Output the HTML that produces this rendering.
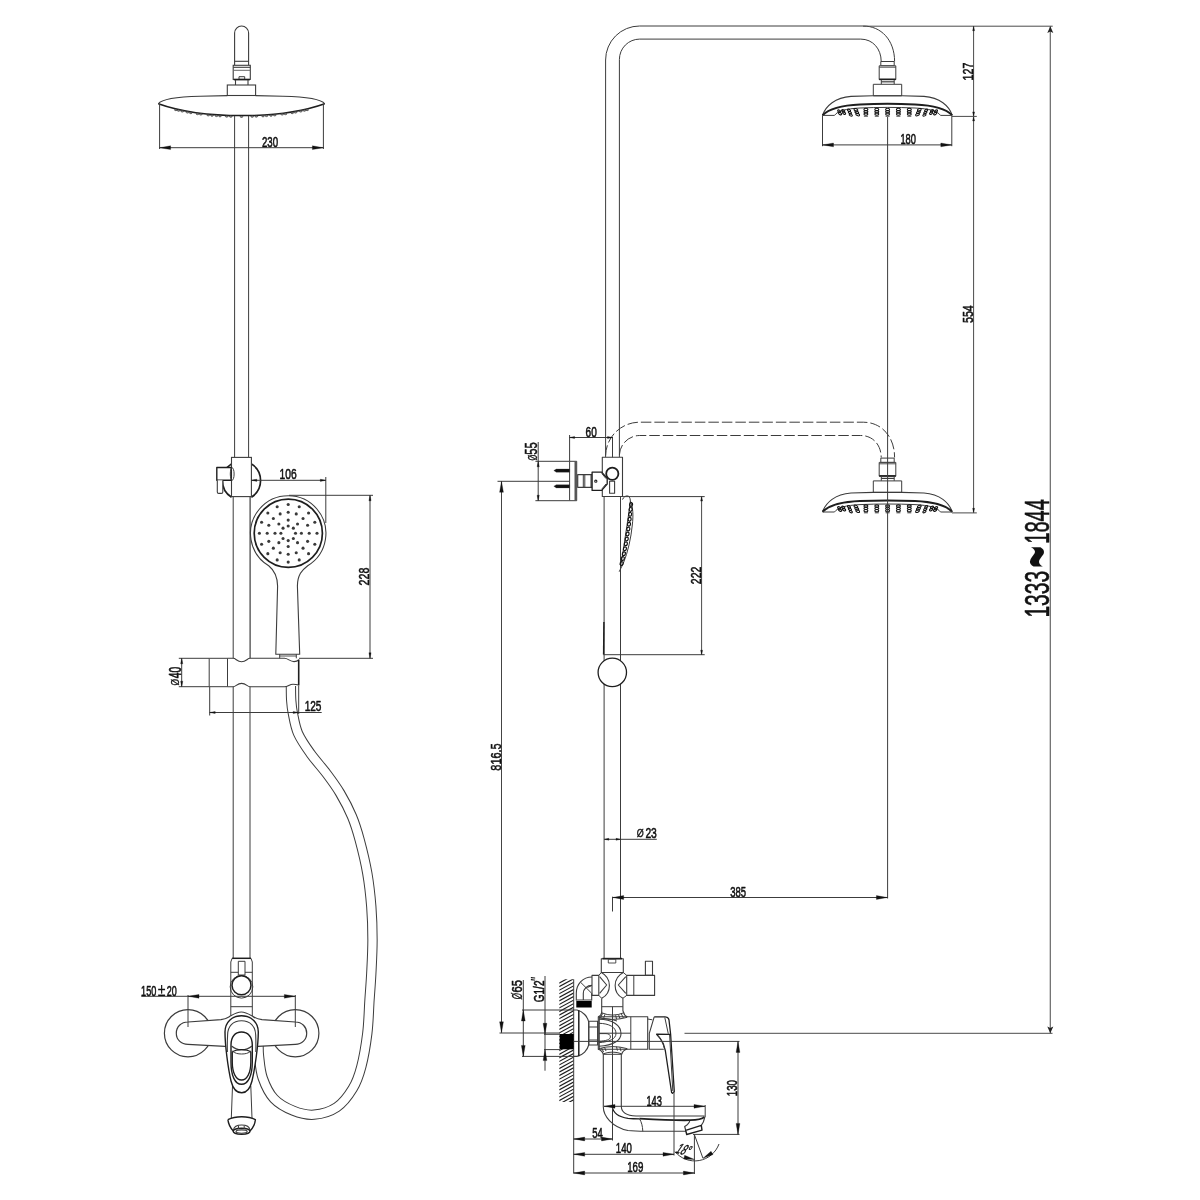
<!DOCTYPE html>
<html lang="en">
<head>
<meta charset="utf-8">
<title>Shower system dimensional drawing</title>
<style>
html,body{margin:0;padding:0;background:#fff;}
body{width:1200px;height:1200px;overflow:hidden;}
svg{display:block;will-change:transform;}
svg text{font-family:"Liberation Sans",sans-serif;}
</style>
</head>
<body>
<svg width="1200" height="1200" viewBox="0 0 1200 1200" stroke-linecap="butt" stroke-linejoin="round">
<rect x="0" y="0" width="1200" height="1200" fill="#ffffff"/>
<g id="front-view">
<path d="M290.9,686 C290.95,688.33 290.88,695.5 291.2,700 C291.52,704.5 291.67,707.45 292.8,713 C293.93,718.55 295.05,726.55 298,733.3 C300.95,740.05 305.75,746.8 310.5,753.5 C315.25,760.2 321.58,766.92 326.5,773.5 C331.42,780.08 335.75,785.83 340,793 C344.25,800.17 348.72,808.67 352,816.5 C355.28,824.33 357.15,830.53 359.7,840 C362.25,849.47 365.37,862.18 367.3,873.3 C369.23,884.42 370.43,895.58 371.3,906.7 C372.17,917.82 372.5,928.9 372.5,940 C372.5,951.1 371.8,963.3 371.3,973.3 C370.8,983.3 370.17,990 369.5,1000 C368.83,1010 368.67,1022.18 367.3,1033.3 C365.93,1044.42 363.73,1057.47 361.3,1066.7 C358.87,1075.93 356.8,1081.93 352.7,1088.7 C348.6,1095.47 343.15,1102.97 336.7,1107.3 C330.25,1111.63 321.23,1114.13 314,1114.7 C306.77,1115.27 299.97,1113.37 293.3,1110.7 C286.63,1108.03 279.1,1104.15 274,1098.7 C268.9,1093.25 265.2,1085.12 262.7,1078 C260.2,1070.88 259.68,1061.67 259,1056 C258.32,1050.33 258.67,1046 258.6,1044" fill="none" stroke="#3c3c3c" stroke-width="10.3"/>
<path d="M290.9,686 C290.95,688.33 290.88,695.5 291.2,700 C291.52,704.5 291.67,707.45 292.8,713 C293.93,718.55 295.05,726.55 298,733.3 C300.95,740.05 305.75,746.8 310.5,753.5 C315.25,760.2 321.58,766.92 326.5,773.5 C331.42,780.08 335.75,785.83 340,793 C344.25,800.17 348.72,808.67 352,816.5 C355.28,824.33 357.15,830.53 359.7,840 C362.25,849.47 365.37,862.18 367.3,873.3 C369.23,884.42 370.43,895.58 371.3,906.7 C372.17,917.82 372.5,928.9 372.5,940 C372.5,951.1 371.8,963.3 371.3,973.3 C370.8,983.3 370.17,990 369.5,1000 C368.83,1010 368.67,1022.18 367.3,1033.3 C365.93,1044.42 363.73,1057.47 361.3,1066.7 C358.87,1075.93 356.8,1081.93 352.7,1088.7 C348.6,1095.47 343.15,1102.97 336.7,1107.3 C330.25,1111.63 321.23,1114.13 314,1114.7 C306.77,1115.27 299.97,1113.37 293.3,1110.7 C286.63,1108.03 279.1,1104.15 274,1098.7 C268.9,1093.25 265.2,1085.12 262.7,1078 C260.2,1070.88 259.68,1061.67 259,1056 C258.32,1050.33 258.67,1046 258.6,1044" fill="none" stroke="#fff" stroke-width="8.3" stroke-linecap="square"/>
<path d="M234.6,65.3 V33 A7,7 0 0 1 248.6,33 V65.3" fill="none" stroke="#3c3c3c" stroke-width="1.1"/>
<line x1="234.6" y1="61.3" x2="248.6" y2="61.3" stroke="#3c3c3c" stroke-width="1.1"/>
<rect x="233.2" y="65.3" width="17.1" height="14.1" fill="#fff" stroke="#3c3c3c" stroke-width="1.1" stroke-linejoin="miter"/>
<line x1="233.2" y1="67.3" x2="250.3" y2="67.3" stroke="#3c3c3c" stroke-width="1.1"/>
<line x1="233.2" y1="70.3" x2="250.3" y2="70.3" stroke="#666" stroke-width="1"/>
<rect x="239" y="76.7" width="5.7" height="2.7" fill="none" stroke="#3c3c3c" stroke-width="1"/>
<line x1="233.8" y1="79.6" x2="249.8" y2="79.6" stroke="#1e1e1e" stroke-width="1.6"/>
<path d="M235.5,80 V85 M248,80 V85" fill="none" stroke="#3c3c3c" stroke-width="1.1"/>
<rect x="227.3" y="85" width="28.3" height="10.5" fill="#fff" stroke="#3c3c3c" stroke-width="1.1" stroke-linejoin="miter"/>
<path d="M158.3,103.7 C161,100 172,96.8 200,96.2 L227.3,95.6 M324.7,103.7 C322,100 311,96.8 283,96.2 L255.6,95.6" fill="none" stroke="#3c3c3c" stroke-width="1.1"/>
<path d="M158.3,103.7 C183,112.5 213,115.6 241.5,115.6 C270,115.6 300,112.5 324.7,103.7" fill="none" stroke="#1e1e1e" stroke-width="1.5"/>
<ellipse cx="175.8" cy="109.9" rx="1.3" ry="0.75" fill="#999" stroke="#333" stroke-width="0.7"/>
<ellipse cx="307.2" cy="109.9" rx="1.3" ry="0.75" fill="#999" stroke="#333" stroke-width="0.7"/>
<ellipse cx="178.6" cy="110.55" rx="1.3" ry="0.75" fill="#999" stroke="#333" stroke-width="0.7"/>
<ellipse cx="304.4" cy="110.55" rx="1.3" ry="0.75" fill="#999" stroke="#333" stroke-width="0.7"/>
<ellipse cx="182.3" cy="111.34" rx="1.3" ry="0.75" fill="#999" stroke="#333" stroke-width="0.7"/>
<ellipse cx="300.7" cy="111.34" rx="1.3" ry="0.75" fill="#999" stroke="#333" stroke-width="0.7"/>
<ellipse cx="187.5" cy="112.36" rx="1.3" ry="0.75" fill="#999" stroke="#333" stroke-width="0.7"/>
<ellipse cx="295.5" cy="112.36" rx="1.3" ry="0.75" fill="#999" stroke="#333" stroke-width="0.7"/>
<ellipse cx="190.8" cy="112.93" rx="1.3" ry="0.75" fill="#999" stroke="#333" stroke-width="0.7"/>
<ellipse cx="292.2" cy="112.93" rx="1.3" ry="0.75" fill="#999" stroke="#333" stroke-width="0.7"/>
<ellipse cx="197.5" cy="113.94" rx="1.3" ry="0.75" fill="#999" stroke="#333" stroke-width="0.7"/>
<ellipse cx="285.5" cy="113.94" rx="1.3" ry="0.75" fill="#999" stroke="#333" stroke-width="0.7"/>
<ellipse cx="200.8" cy="114.32" rx="1.3" ry="0.75" fill="#999" stroke="#333" stroke-width="0.7"/>
<ellipse cx="282.2" cy="114.32" rx="1.3" ry="0.75" fill="#999" stroke="#333" stroke-width="0.7"/>
<ellipse cx="208.3" cy="115.17" rx="1.3" ry="0.75" fill="#999" stroke="#333" stroke-width="0.7"/>
<ellipse cx="274.7" cy="115.17" rx="1.3" ry="0.75" fill="#999" stroke="#333" stroke-width="0.7"/>
<ellipse cx="212" cy="115.52" rx="1.3" ry="0.75" fill="#999" stroke="#333" stroke-width="0.7"/>
<ellipse cx="271" cy="115.52" rx="1.3" ry="0.75" fill="#999" stroke="#333" stroke-width="0.7"/>
<ellipse cx="216.5" cy="115.85" rx="1.3" ry="0.75" fill="#999" stroke="#333" stroke-width="0.7"/>
<ellipse cx="266.5" cy="115.85" rx="1.3" ry="0.75" fill="#999" stroke="#333" stroke-width="0.7"/>
<ellipse cx="220" cy="116.08" rx="1.3" ry="0.75" fill="#999" stroke="#333" stroke-width="0.7"/>
<ellipse cx="263" cy="116.08" rx="1.3" ry="0.75" fill="#999" stroke="#333" stroke-width="0.7"/>
<ellipse cx="226.7" cy="116.42" rx="1.3" ry="0.75" fill="#999" stroke="#333" stroke-width="0.7"/>
<ellipse cx="256.3" cy="116.42" rx="1.3" ry="0.75" fill="#999" stroke="#333" stroke-width="0.7"/>
<ellipse cx="230.8" cy="116.55" rx="1.3" ry="0.75" fill="#999" stroke="#333" stroke-width="0.7"/>
<ellipse cx="252.2" cy="116.55" rx="1.3" ry="0.75" fill="#999" stroke="#333" stroke-width="0.7"/>
<ellipse cx="241.5" cy="116.7" rx="1.3" ry="0.75" fill="#999" stroke="#333" stroke-width="0.7"/>
<line x1="234.6" y1="116" x2="234.6" y2="457.5" stroke="#3c3c3c" stroke-width="1"/>
<line x1="248.6" y1="116" x2="248.6" y2="457.5" stroke="#3c3c3c" stroke-width="1"/>
<line x1="233.2" y1="496.7" x2="233.2" y2="658.3" stroke="#3c3c3c" stroke-width="1"/>
<line x1="250.1" y1="496.7" x2="250.1" y2="658.3" stroke="#3c3c3c" stroke-width="1.2"/>
<line x1="233.2" y1="686.7" x2="233.2" y2="958.3" stroke="#3c3c3c" stroke-width="1"/>
<line x1="250" y1="686.7" x2="250" y2="958.3" stroke="#3c3c3c" stroke-width="1"/>
<path d="M251.4,463.9 A19.8,19.8 0 0 1 251.4,497.3 M231.5,463.9 A19.8,19.8 0 0 0 231.5,497.3" fill="none" stroke="#1e1e1e" stroke-width="1.7"/>
<rect x="231.5" y="457.4" width="19.9" height="39.2" fill="#fff" stroke="#3c3c3c" stroke-width="1.1" stroke-linejoin="miter"/>
<rect x="216.8" y="467.5" width="14.4" height="12.8" fill="#fff" stroke="#1e1e1e" stroke-width="1.4"/>
<ellipse cx="232.2" cy="474" rx="1.9" ry="6.2" fill="none" stroke="#3c3c3c" stroke-width="1"/>
<path d="M217.3,480.3 V492 Q217.3,493.4 218.7,493.4 H221.4 Q222.8,493.4 222.8,492 V480.3" fill="#fff" stroke="#3c3c3c" stroke-width="1.1"/>
<path d="M275.8,654.2 L277.6,586 C277.4,575 274,570 268.7,565.7 A37.7,37.7 0 1 1 307.7,565.7 C302,570 297.5,575 297.4,586 L299.7,654.2 Z" fill="none" stroke="#3c3c3c" stroke-width="1.1"/>
<circle cx="288.3" cy="533.3" r="34.1" fill="none" stroke="#1e1e1e" stroke-width="1.7"/>
<circle cx="295.5" cy="533.3" r="1.55" fill="#3a3a3a" stroke="#3c3c3c" stroke-width="0"/>
<circle cx="293.36" cy="538.46" r="1.55" fill="#3a3a3a" stroke="#3c3c3c" stroke-width="0"/>
<circle cx="288.2" cy="540.6" r="1.55" fill="#3a3a3a" stroke="#3c3c3c" stroke-width="0"/>
<circle cx="283.04" cy="538.46" r="1.55" fill="#3a3a3a" stroke="#3c3c3c" stroke-width="0"/>
<circle cx="280.9" cy="533.3" r="1.55" fill="#3a3a3a" stroke="#3c3c3c" stroke-width="0"/>
<circle cx="283.04" cy="528.14" r="1.55" fill="#3a3a3a" stroke="#3c3c3c" stroke-width="0"/>
<circle cx="288.2" cy="526" r="1.55" fill="#3a3a3a" stroke="#3c3c3c" stroke-width="0"/>
<circle cx="293.36" cy="528.14" r="1.55" fill="#3a3a3a" stroke="#3c3c3c" stroke-width="0"/>
<circle cx="301.4" cy="533.3" r="1.55" fill="#3a3a3a" stroke="#3c3c3c" stroke-width="0"/>
<circle cx="297.53" cy="542.63" r="1.55" fill="#3a3a3a" stroke="#3c3c3c" stroke-width="0"/>
<circle cx="288.2" cy="546.5" r="1.55" fill="#3a3a3a" stroke="#3c3c3c" stroke-width="0"/>
<circle cx="278.87" cy="542.63" r="1.55" fill="#3a3a3a" stroke="#3c3c3c" stroke-width="0"/>
<circle cx="275" cy="533.3" r="1.55" fill="#3a3a3a" stroke="#3c3c3c" stroke-width="0"/>
<circle cx="278.87" cy="523.97" r="1.55" fill="#3a3a3a" stroke="#3c3c3c" stroke-width="0"/>
<circle cx="288.2" cy="520.1" r="1.55" fill="#3a3a3a" stroke="#3c3c3c" stroke-width="0"/>
<circle cx="297.53" cy="523.97" r="1.55" fill="#3a3a3a" stroke="#3c3c3c" stroke-width="0"/>
<circle cx="309.2" cy="533.3" r="1.55" fill="#3a3a3a" stroke="#3c3c3c" stroke-width="0"/>
<circle cx="307.6" cy="541.34" r="1.55" fill="#3a3a3a" stroke="#3c3c3c" stroke-width="0"/>
<circle cx="303.05" cy="548.15" r="1.55" fill="#3a3a3a" stroke="#3c3c3c" stroke-width="0"/>
<circle cx="296.24" cy="552.7" r="1.55" fill="#3a3a3a" stroke="#3c3c3c" stroke-width="0"/>
<circle cx="288.2" cy="554.3" r="1.55" fill="#3a3a3a" stroke="#3c3c3c" stroke-width="0"/>
<circle cx="280.16" cy="552.7" r="1.55" fill="#3a3a3a" stroke="#3c3c3c" stroke-width="0"/>
<circle cx="273.35" cy="548.15" r="1.55" fill="#3a3a3a" stroke="#3c3c3c" stroke-width="0"/>
<circle cx="268.8" cy="541.34" r="1.55" fill="#3a3a3a" stroke="#3c3c3c" stroke-width="0"/>
<circle cx="267.2" cy="533.3" r="1.55" fill="#3a3a3a" stroke="#3c3c3c" stroke-width="0"/>
<circle cx="268.8" cy="525.26" r="1.55" fill="#3a3a3a" stroke="#3c3c3c" stroke-width="0"/>
<circle cx="273.35" cy="518.45" r="1.55" fill="#3a3a3a" stroke="#3c3c3c" stroke-width="0"/>
<circle cx="280.16" cy="513.9" r="1.55" fill="#3a3a3a" stroke="#3c3c3c" stroke-width="0"/>
<circle cx="288.2" cy="512.3" r="1.55" fill="#3a3a3a" stroke="#3c3c3c" stroke-width="0"/>
<circle cx="296.24" cy="513.9" r="1.55" fill="#3a3a3a" stroke="#3c3c3c" stroke-width="0"/>
<circle cx="303.05" cy="518.45" r="1.55" fill="#3a3a3a" stroke="#3c3c3c" stroke-width="0"/>
<circle cx="307.6" cy="525.26" r="1.55" fill="#3a3a3a" stroke="#3c3c3c" stroke-width="0"/>
<circle cx="317" cy="533.3" r="1.55" fill="#3a3a3a" stroke="#3c3c3c" stroke-width="0"/>
<circle cx="314.81" cy="544.32" r="1.55" fill="#3a3a3a" stroke="#3c3c3c" stroke-width="0"/>
<circle cx="308.56" cy="553.66" r="1.55" fill="#3a3a3a" stroke="#3c3c3c" stroke-width="0"/>
<circle cx="299.22" cy="559.91" r="1.55" fill="#3a3a3a" stroke="#3c3c3c" stroke-width="0"/>
<circle cx="288.2" cy="562.1" r="1.55" fill="#3a3a3a" stroke="#3c3c3c" stroke-width="0"/>
<circle cx="277.18" cy="559.91" r="1.55" fill="#3a3a3a" stroke="#3c3c3c" stroke-width="0"/>
<circle cx="267.84" cy="553.66" r="1.55" fill="#3a3a3a" stroke="#3c3c3c" stroke-width="0"/>
<circle cx="261.59" cy="544.32" r="1.55" fill="#3a3a3a" stroke="#3c3c3c" stroke-width="0"/>
<circle cx="259.4" cy="533.3" r="1.55" fill="#3a3a3a" stroke="#3c3c3c" stroke-width="0"/>
<circle cx="261.59" cy="522.28" r="1.55" fill="#3a3a3a" stroke="#3c3c3c" stroke-width="0"/>
<circle cx="267.84" cy="512.94" r="1.55" fill="#3a3a3a" stroke="#3c3c3c" stroke-width="0"/>
<circle cx="277.18" cy="506.69" r="1.55" fill="#3a3a3a" stroke="#3c3c3c" stroke-width="0"/>
<circle cx="288.2" cy="504.5" r="1.55" fill="#3a3a3a" stroke="#3c3c3c" stroke-width="0"/>
<circle cx="299.22" cy="506.69" r="1.55" fill="#3a3a3a" stroke="#3c3c3c" stroke-width="0"/>
<circle cx="308.56" cy="512.94" r="1.55" fill="#3a3a3a" stroke="#3c3c3c" stroke-width="0"/>
<circle cx="314.81" cy="522.28" r="1.55" fill="#3a3a3a" stroke="#3c3c3c" stroke-width="0"/>
<path d="M279.7,654.2 V658.3 M296.3,654.2 V658.3" fill="none" stroke="#3c3c3c" stroke-width="1"/>
<line x1="279.7" y1="656" x2="296.3" y2="656" stroke="#3c3c3c" stroke-width="0.9"/>
<rect x="209.2" y="658.3" width="18.3" height="28.4" fill="none" stroke="#3c3c3c" stroke-width="1"/>
<path d="M227.5,658.3 H233.2 C236,658.3 237,661.7 241.6,661.7 C246.2,661.7 247.2,658.3 250,658.3 H284.5 C288,658.3 290,661.6 294,661.6 C297,661.6 298.7,660 298.7,660" fill="none" stroke="#3c3c3c" stroke-width="1.1"/>
<path d="M227.5,686.7 H233.2 C236,686.7 237,683.4 241.6,683.4 C246.2,683.4 247.2,686.7 250,686.7 H284.5 C288,686.7 289.5,684.2 293,684.2 C296,684.2 298.7,685 298.7,685" fill="none" stroke="#3c3c3c" stroke-width="1.1"/>
<line x1="298.7" y1="659.5" x2="298.7" y2="685.5" stroke="#1e1e1e" stroke-width="1.6"/>
<path d="M232.1,958.3 L230.8,962 V1016 M251,958.3 L252.3,962 V1016" fill="none" stroke="#3c3c3c" stroke-width="1"/>
<line x1="232.1" y1="958.3" x2="251" y2="958.3" stroke="#1e1e1e" stroke-width="1.5"/>
<rect x="238.3" y="961.3" width="6.7" height="13.7" fill="none" stroke="#3c3c3c" stroke-width="1"/>
<path d="M230.8,972.3 H238.3 M245,972.3 H252.3" fill="none" stroke="#3c3c3c" stroke-width="1"/>
<circle cx="241.5" cy="986.8" r="11.3" fill="none" stroke="#3c3c3c" stroke-width="1"/>
<circle cx="241.5" cy="985.2" r="9.5" fill="#fff" stroke="#1e1e1e" stroke-width="1.5"/>
<line x1="230.8" y1="1006.7" x2="252.3" y2="1006.7" stroke="#3c3c3c" stroke-width="1"/>
<circle cx="188" cy="1033.2" r="23.6" fill="none" stroke="#3c3c3c" stroke-width="1.2"/>
<circle cx="295.3" cy="1033.2" r="23.6" fill="none" stroke="#3c3c3c" stroke-width="1.2"/>
<path d="M188,1022 C181,1022 176.3,1027 176.3,1033.2 C176.3,1039.5 181,1044.3 188,1044.3 L225,1046.3 L258,1046.3 L295.3,1044.3 C302,1044.3 306.7,1039.5 306.7,1033.2 C306.7,1027 302,1022 295.3,1022 L262,1019.6 C256,1019 254,1017 251.7,1015.8 C247,1013 244,1012 241.3,1012 C238.5,1012 235.5,1013 230.8,1015.8 C228.5,1017 226.5,1019 221,1019.6 Z" fill="#fff" stroke="#3c3c3c" stroke-width="1.2"/>
<path d="M232.5,1086 L231.3,1118.3 M250.8,1086 L252,1118.3" fill="none" stroke="#3c3c3c" stroke-width="1"/>
<path d="M241.5,1015.8 C232,1015.8 225,1022 225,1032 C225,1045 228,1068 231,1081 C233,1089 237,1092.8 241.7,1092.8 C246.4,1092.8 250,1089 252,1081 C255,1068 258.3,1045 258.3,1032 C258.3,1022 251,1015.8 241.5,1015.8 Z" fill="#fff" stroke="#1e1e1e" stroke-width="1.4"/>
<path d="M227.4,1052 C227.2,1046 227.3,1040 227.6,1035 C227.6,1026 233,1020.8 241.5,1020.8 C250,1020.8 255.6,1026 255.7,1035 C255.9,1040 256,1046 255.8,1052" fill="none" stroke="#3c3c3c" stroke-width="1.1"/>
<path d="M241.5,1032 C235,1032 231,1037 231,1045 V1062 C231,1076 235,1084.3 241.5,1084.3 C248,1084.3 252.3,1076 252.3,1062 V1045 C252.3,1037 248,1032 241.5,1032 Z" fill="none" stroke="#1e1e1e" stroke-width="1.4"/>
<path d="M231.5,1046 C235,1049 238,1049.8 241.6,1049.8 C245,1049.8 248.5,1049 252,1046" fill="none" stroke="#3c3c3c" stroke-width="1.1"/>
<path d="M232.3,1062 V1052 C235,1050 238,1049.6 241.6,1049.6 C245,1049.6 248.5,1050 250.8,1052 V1062 C250.8,1073 247,1080 241.6,1080 C236,1080 232.3,1073 232.3,1062 Z" fill="none" stroke="#1e1e1e" stroke-width="1.3"/>
<path d="M232.3,1051 C235,1053.4 238,1054 241.6,1054 C245,1054 248.5,1053.4 250.8,1051" fill="none" stroke="#3c3c3c" stroke-width="1"/>
<path d="M227.9,1119.6 C232,1117.5 237,1116.7 241.7,1116.7 C246.4,1116.7 251.5,1117.5 255.4,1119.6 C255,1124 253,1128 250,1131 M227.9,1119.6 C228.4,1124 230.5,1128 233.3,1131" fill="none" stroke="#1e1e1e" stroke-width="1.4"/>
<ellipse cx="241.6" cy="1131.3" rx="8.4" ry="3" fill="none" stroke="#1e1e1e" stroke-width="1.4"/>
<ellipse cx="241.6" cy="1131.6" rx="5.6" ry="1.7" fill="none" stroke="#3c3c3c" stroke-width="1.1"/>
<path d="M233.4,1130 C234,1126.5 237,1125 241.6,1125 C246,1125 249.5,1126.5 249.9,1130" fill="none" stroke="#3c3c3c" stroke-width="1.1"/>
<path d="M238.5,1125.5 V1129 M244.2,1125.5 V1129" fill="none" stroke="#3c3c3c" stroke-width="1"/>
</g>
<g id="front-dims">
<line x1="159.6" y1="104" x2="159.6" y2="149" stroke="#3c3c3c" stroke-width="1"/>
<line x1="323.4" y1="104" x2="323.4" y2="149" stroke="#3c3c3c" stroke-width="1"/>
<line x1="159.6" y1="147.7" x2="323.4" y2="147.7" stroke="#3c3c3c" stroke-width="1"/>
<polygon points="159.6,147.7 170.6,145.8 170.6,149.6" fill="#111" stroke="#111" stroke-width="0.3"/>
<polygon points="323.4,147.7 312.4,149.6 312.4,145.8" fill="#111" stroke="#111" stroke-width="0.3"/>
<text transform="translate(262.4 147.5) scale(0.6407 1)" x="-0.76" y="-0.15" font-size="15.11" fill="#111" stroke="#111" stroke-width="0.5" vector-effect="non-scaling-stroke">230</text>
<line x1="251.3" y1="480.3" x2="325.8" y2="480.3" stroke="#3c3c3c" stroke-width="1"/>
<line x1="325.8" y1="477" x2="325.8" y2="523" stroke="#3c3c3c" stroke-width="1"/>
<polygon points="251.3,480.3 256.8,479.2 256.8,481.4" fill="#111" stroke="#111" stroke-width="0.3"/>
<polygon points="325.8,480.3 320.3,481.4 320.3,479.2" fill="#111" stroke="#111" stroke-width="0.3"/>
<text transform="translate(280.3 479.5) scale(0.6792 1)" x="-1.15" y="-0.15" font-size="15.11" fill="#111" stroke="#111" stroke-width="0.5" vector-effect="non-scaling-stroke">106</text>
<line x1="289" y1="495.3" x2="373" y2="495.3" stroke="#3c3c3c" stroke-width="1"/>
<line x1="178.8" y1="658.3" x2="209.2" y2="658.3" stroke="#3c3c3c" stroke-width="1"/>
<line x1="299" y1="658.3" x2="373" y2="658.3" stroke="#3c3c3c" stroke-width="1"/>
<line x1="370" y1="495.3" x2="370" y2="658.3" stroke="#3c3c3c" stroke-width="1"/>
<polygon points="370,495.3 371.1,500.8 368.9,500.8" fill="#111" stroke="#111" stroke-width="0.3"/>
<polygon points="370,658.3 368.9,652.8 371.1,652.8" fill="#111" stroke="#111" stroke-width="0.3"/>
<text transform="translate(369.5 584.9) rotate(-90) scale(0.7058 1)" x="-0.76" y="-0.15" font-size="15.11" fill="#111" stroke="#111" stroke-width="0.5" vector-effect="non-scaling-stroke">228</text>
<line x1="178.8" y1="686.7" x2="209.2" y2="686.7" stroke="#3c3c3c" stroke-width="1"/>
<line x1="181.7" y1="658.3" x2="181.7" y2="686.7" stroke="#3c3c3c" stroke-width="1"/>
<polygon points="181.7,658.3 182.8,663.8 180.6,663.8" fill="#111" stroke="#111" stroke-width="0.3"/>
<polygon points="181.7,686.7 180.6,681.2 182.8,681.2" fill="#111" stroke="#111" stroke-width="0.3"/>
<text transform="translate(181 678) rotate(-90) scale(0.6461 1)" x="-0.35" y="-0.16" font-size="15.89" fill="#111" stroke="#111" stroke-width="0.5" vector-effect="non-scaling-stroke">40</text>
<text transform="translate(178.9 685.2) rotate(-90) scale(0.7207 1)" x="-0.4" y="-0.32" font-size="11.71" fill="#111" stroke="#111" stroke-width="0.3" vector-effect="non-scaling-stroke">&#216;</text>
<line x1="209.7" y1="686.7" x2="209.7" y2="715.5" stroke="#3c3c3c" stroke-width="1"/>
<line x1="298.7" y1="686" x2="298.7" y2="714" stroke="#3c3c3c" stroke-width="1"/>
<line x1="209.7" y1="712.5" x2="321.7" y2="712.5" stroke="#3c3c3c" stroke-width="1"/>
<polygon points="209.7,712.5 215.2,711.4 215.2,713.6" fill="#111" stroke="#111" stroke-width="0.3"/>
<polygon points="298.7,712.5 293.2,713.6 293.2,711.4" fill="#111" stroke="#111" stroke-width="0.3"/>
<text transform="translate(305.4 711.5) scale(0.6655 1)" x="-1.15" y="-0.15" font-size="15.11" fill="#111" stroke="#111" stroke-width="0.5" vector-effect="non-scaling-stroke">125</text>
<line x1="141.3" y1="996.3" x2="295.3" y2="996.3" stroke="#3c3c3c" stroke-width="1"/>
<line x1="188" y1="995" x2="188" y2="1027" stroke="#3c3c3c" stroke-width="1"/>
<line x1="295.3" y1="995" x2="295.3" y2="1027" stroke="#3c3c3c" stroke-width="1"/>
<polygon points="188,996.3 199,994.4 199,998.2" fill="#111" stroke="#111" stroke-width="0.3"/>
<polygon points="295.3,996.3 284.3,998.2 284.3,994.4" fill="#111" stroke="#111" stroke-width="0.3"/>
<text transform="translate(141.8 996.1) scale(0.6046 1)" x="-1.15" y="-0.15" font-size="15.11" fill="#111" stroke="#111" stroke-width="0.5" vector-effect="non-scaling-stroke">150</text>
<text transform="translate(158.2 995.6) scale(0.7300 1)" x="-0.59" y="0" font-size="19.13" fill="#111" stroke="#111" stroke-width="0.2" vector-effect="non-scaling-stroke">&#177;</text>
<text transform="translate(167.3 996.1) scale(0.5945 1)" x="-0.76" y="-0.15" font-size="15.11" fill="#111" stroke="#111" stroke-width="0.5" vector-effect="non-scaling-stroke">20</text>
</g>
<g id="side-view">
<path d="M605.6,457.3 V60 A34,34 0 0 1 639.6,26 H863.3 C881,26 894.6,40 894.6,61.5" fill="none" stroke="#3c3c3c" stroke-width="1"/>
<path d="M619.4,457.3 V59.4 A20.3,20.3 0 0 1 639.7,39.1 H860.7 C873,39.1 881.2,49 881.2,61.5" fill="none" stroke="#3c3c3c" stroke-width="1"/>
<line x1="604.1" y1="496.6" x2="604.1" y2="958.5" stroke="#3c3c3c" stroke-width="1"/>
<line x1="620.5" y1="496.6" x2="620.5" y2="958.5" stroke="#3c3c3c" stroke-width="1"/>
<path d="M605.6,455.6 A34,34 0 0 1 639.6,422.2 H863.3 C881,422.2 894.6,436 894.6,457.5" fill="none" stroke="#3c3c3c" stroke-width="1" stroke-dasharray="10.5 3"/>
<path d="M619.4,455 A20.3,20.3 0 0 1 639.7,435.5 H860.7 C873,435.5 881.2,445 881.2,457.5" fill="none" stroke="#3c3c3c" stroke-width="1" stroke-dasharray="10.5 3"/>
<g transform="translate(0 0)">
<rect x="880.8" y="61.5" width="13.4" height="4.3" fill="#fff" stroke="#3c3c3c" stroke-width="1"/>
<rect x="879.2" y="65.8" width="16.6" height="13.8" fill="#fff" stroke="#3c3c3c" stroke-width="1"/>
<line x1="879.2" y1="67.2" x2="895.8" y2="67.2" stroke="#3c3c3c" stroke-width="0.9"/>
<line x1="879.2" y1="79.3" x2="895.8" y2="79.3" stroke="#1e1e1e" stroke-width="1.6"/>
<path d="M881.3,80 V84.3 M894.2,80 V84.3" fill="none" stroke="#3c3c3c" stroke-width="1"/>
<line x1="881.3" y1="81.8" x2="894.2" y2="81.8" stroke="#3c3c3c" stroke-width="1.2"/>
<rect x="873.3" y="84.3" width="28.4" height="11.5" fill="#fff" stroke="#3c3c3c" stroke-width="1"/>
<path d="M822.5,115.2 C826,106 835,97.6 851,96.4 L873.3,95.8 H901.7 L924,96.4 C940,97.6 949,106 952.2,115.2" fill="none" stroke="#3c3c3c" stroke-width="1.1"/>
<path d="M822.6,115.2 C829,108.5 842,105.2 860,104.4 C878,103.6 897,103.6 915,104.4 C933,105.2 946,108.5 952.1,115.2" fill="none" stroke="#1e1e1e" stroke-width="2"/>
<path d="M822.5,115.4 H834.5 C838,110.6 846,108.8 860,108 C878,107.2 897,107.2 915,108 C929,108.8 937,110.6 940.5,115.4 H952.2" fill="none" stroke="#3c3c3c" stroke-width="1"/>
<ellipse cx="887.6" cy="109.4" rx="2" ry="1.15" fill="none" stroke="#111" stroke-width="1.1" transform="rotate(0 887.6 109.4)"/>
<ellipse cx="887.6" cy="111.75" rx="2" ry="1.15" fill="none" stroke="#111" stroke-width="1.1" transform="rotate(0 887.6 111.75)"/>
<ellipse cx="887.6" cy="114.1" rx="2" ry="1.15" fill="none" stroke="#111" stroke-width="1.1" transform="rotate(0 887.6 114.1)"/>
<line x1="885.6" y1="116.2" x2="889.6" y2="116.2" stroke="#3c3c3c" stroke-width="1"/>
<ellipse cx="876.8" cy="109.4" rx="2" ry="1.15" fill="none" stroke="#111" stroke-width="1.1" transform="rotate(0 876.8 109.4)"/>
<ellipse cx="876.8" cy="111.75" rx="2" ry="1.15" fill="none" stroke="#111" stroke-width="1.1" transform="rotate(0 876.8 111.75)"/>
<ellipse cx="876.8" cy="114.1" rx="2" ry="1.15" fill="none" stroke="#111" stroke-width="1.1" transform="rotate(0 876.8 114.1)"/>
<line x1="874.8" y1="116.2" x2="878.8" y2="116.2" stroke="#3c3c3c" stroke-width="1"/>
<ellipse cx="898.4" cy="109.4" rx="2" ry="1.15" fill="none" stroke="#111" stroke-width="1.1" transform="rotate(0 898.4 109.4)"/>
<ellipse cx="898.4" cy="111.75" rx="2" ry="1.15" fill="none" stroke="#111" stroke-width="1.1" transform="rotate(0 898.4 111.75)"/>
<ellipse cx="898.4" cy="114.1" rx="2" ry="1.15" fill="none" stroke="#111" stroke-width="1.1" transform="rotate(0 898.4 114.1)"/>
<line x1="896.4" y1="116.2" x2="900.4" y2="116.2" stroke="#3c3c3c" stroke-width="1"/>
<ellipse cx="865.9" cy="109.4" rx="2" ry="1.15" fill="none" stroke="#111" stroke-width="1.1" transform="rotate(0 865.9 109.4)"/>
<ellipse cx="865.9" cy="111.75" rx="2" ry="1.15" fill="none" stroke="#111" stroke-width="1.1" transform="rotate(0 865.9 111.75)"/>
<ellipse cx="865.9" cy="114.1" rx="2" ry="1.15" fill="none" stroke="#111" stroke-width="1.1" transform="rotate(0 865.9 114.1)"/>
<line x1="863.9" y1="116.2" x2="867.9" y2="116.2" stroke="#3c3c3c" stroke-width="1"/>
<ellipse cx="909.3" cy="109.4" rx="2" ry="1.15" fill="none" stroke="#111" stroke-width="1.1" transform="rotate(0 909.3 109.4)"/>
<ellipse cx="909.3" cy="111.75" rx="2" ry="1.15" fill="none" stroke="#111" stroke-width="1.1" transform="rotate(0 909.3 111.75)"/>
<ellipse cx="909.3" cy="114.1" rx="2" ry="1.15" fill="none" stroke="#111" stroke-width="1.1" transform="rotate(0 909.3 114.1)"/>
<line x1="907.3" y1="116.2" x2="911.3" y2="116.2" stroke="#3c3c3c" stroke-width="1"/>
<ellipse cx="855.9" cy="109.85" rx="2" ry="1.15" fill="none" stroke="#111" stroke-width="1.1" transform="rotate(23.77 855.9 109.85)"/>
<ellipse cx="856.8" cy="112.2" rx="2" ry="1.15" fill="none" stroke="#111" stroke-width="1.1" transform="rotate(23.77 856.8 112.2)"/>
<ellipse cx="857.7" cy="114.55" rx="2" ry="1.15" fill="none" stroke="#111" stroke-width="1.1" transform="rotate(23.77 857.7 114.55)"/>
<ellipse cx="919.3" cy="109.85" rx="2" ry="1.15" fill="none" stroke="#111" stroke-width="1.1" transform="rotate(-23.77 919.3 109.85)"/>
<ellipse cx="918.4" cy="112.2" rx="2" ry="1.15" fill="none" stroke="#111" stroke-width="1.1" transform="rotate(-23.77 918.4 112.2)"/>
<ellipse cx="917.5" cy="114.55" rx="2" ry="1.15" fill="none" stroke="#111" stroke-width="1.1" transform="rotate(-23.77 917.5 114.55)"/>
<ellipse cx="849" cy="110.3" rx="1.7" ry="0.98" fill="none" stroke="#111" stroke-width="1.1" transform="rotate(28.95 849 110.3)"/>
<ellipse cx="849.9" cy="112.65" rx="1.7" ry="0.98" fill="none" stroke="#111" stroke-width="1.1" transform="rotate(28.95 849.9 112.65)"/>
<ellipse cx="850.8" cy="115" rx="1.7" ry="0.98" fill="none" stroke="#111" stroke-width="1.1" transform="rotate(28.95 850.8 115)"/>
<ellipse cx="926.2" cy="110.3" rx="1.7" ry="0.98" fill="none" stroke="#111" stroke-width="1.1" transform="rotate(-28.95 926.2 110.3)"/>
<ellipse cx="925.3" cy="112.65" rx="1.7" ry="0.98" fill="none" stroke="#111" stroke-width="1.1" transform="rotate(-28.95 925.3 112.65)"/>
<ellipse cx="924.4" cy="115" rx="1.7" ry="0.98" fill="none" stroke="#111" stroke-width="1.1" transform="rotate(-28.95 924.4 115)"/>
<ellipse cx="843.2" cy="110.75" rx="1.7" ry="0.98" fill="none" stroke="#111" stroke-width="1.1" transform="rotate(30 843.2 110.75)"/>
<ellipse cx="844.1" cy="113.1" rx="1.7" ry="0.98" fill="none" stroke="#111" stroke-width="1.1" transform="rotate(30 844.1 113.1)"/>
<ellipse cx="932" cy="110.75" rx="1.7" ry="0.98" fill="none" stroke="#111" stroke-width="1.1" transform="rotate(-30 932 110.75)"/>
<ellipse cx="931.1" cy="113.1" rx="1.7" ry="0.98" fill="none" stroke="#111" stroke-width="1.1" transform="rotate(-30 931.1 113.1)"/>
<ellipse cx="839.2" cy="111.2" rx="1.7" ry="0.98" fill="none" stroke="#111" stroke-width="1.1" transform="rotate(30 839.2 111.2)"/>
<ellipse cx="840.1" cy="113.55" rx="1.7" ry="0.98" fill="none" stroke="#111" stroke-width="1.1" transform="rotate(30 840.1 113.55)"/>
<ellipse cx="936" cy="111.2" rx="1.7" ry="0.98" fill="none" stroke="#111" stroke-width="1.1" transform="rotate(-30 936 111.2)"/>
<ellipse cx="935.1" cy="113.55" rx="1.7" ry="0.98" fill="none" stroke="#111" stroke-width="1.1" transform="rotate(-30 935.1 113.55)"/>
</g>
<g transform="translate(0 396.6)">
<rect x="880.8" y="61.5" width="13.4" height="4.3" fill="#fff" stroke="#3c3c3c" stroke-width="1"/>
<rect x="879.2" y="65.8" width="16.6" height="13.8" fill="#fff" stroke="#3c3c3c" stroke-width="1"/>
<line x1="879.2" y1="67.2" x2="895.8" y2="67.2" stroke="#3c3c3c" stroke-width="0.9"/>
<line x1="879.2" y1="79.3" x2="895.8" y2="79.3" stroke="#1e1e1e" stroke-width="1.6"/>
<path d="M881.3,80 V84.3 M894.2,80 V84.3" fill="none" stroke="#3c3c3c" stroke-width="1"/>
<line x1="881.3" y1="81.8" x2="894.2" y2="81.8" stroke="#3c3c3c" stroke-width="1.2"/>
<rect x="873.3" y="84.3" width="28.4" height="11.5" fill="#fff" stroke="#3c3c3c" stroke-width="1"/>
<path d="M822.5,115.2 C826,106 835,97.6 851,96.4 L873.3,95.8 H901.7 L924,96.4 C940,97.6 949,106 952.2,115.2" fill="none" stroke="#3c3c3c" stroke-width="1.1"/>
<path d="M822.6,115.2 C829,108.5 842,105.2 860,104.4 C878,103.6 897,103.6 915,104.4 C933,105.2 946,108.5 952.1,115.2" fill="none" stroke="#1e1e1e" stroke-width="2"/>
<path d="M822.5,115.4 H834.5 C838,110.6 846,108.8 860,108 C878,107.2 897,107.2 915,108 C929,108.8 937,110.6 940.5,115.4 H952.2" fill="none" stroke="#3c3c3c" stroke-width="1"/>
<ellipse cx="887.6" cy="109.4" rx="2" ry="1.15" fill="none" stroke="#111" stroke-width="1.1" transform="rotate(0 887.6 109.4)"/>
<ellipse cx="887.6" cy="111.75" rx="2" ry="1.15" fill="none" stroke="#111" stroke-width="1.1" transform="rotate(0 887.6 111.75)"/>
<ellipse cx="887.6" cy="114.1" rx="2" ry="1.15" fill="none" stroke="#111" stroke-width="1.1" transform="rotate(0 887.6 114.1)"/>
<line x1="885.6" y1="116.2" x2="889.6" y2="116.2" stroke="#3c3c3c" stroke-width="1"/>
<ellipse cx="876.8" cy="109.4" rx="2" ry="1.15" fill="none" stroke="#111" stroke-width="1.1" transform="rotate(0 876.8 109.4)"/>
<ellipse cx="876.8" cy="111.75" rx="2" ry="1.15" fill="none" stroke="#111" stroke-width="1.1" transform="rotate(0 876.8 111.75)"/>
<ellipse cx="876.8" cy="114.1" rx="2" ry="1.15" fill="none" stroke="#111" stroke-width="1.1" transform="rotate(0 876.8 114.1)"/>
<line x1="874.8" y1="116.2" x2="878.8" y2="116.2" stroke="#3c3c3c" stroke-width="1"/>
<ellipse cx="898.4" cy="109.4" rx="2" ry="1.15" fill="none" stroke="#111" stroke-width="1.1" transform="rotate(0 898.4 109.4)"/>
<ellipse cx="898.4" cy="111.75" rx="2" ry="1.15" fill="none" stroke="#111" stroke-width="1.1" transform="rotate(0 898.4 111.75)"/>
<ellipse cx="898.4" cy="114.1" rx="2" ry="1.15" fill="none" stroke="#111" stroke-width="1.1" transform="rotate(0 898.4 114.1)"/>
<line x1="896.4" y1="116.2" x2="900.4" y2="116.2" stroke="#3c3c3c" stroke-width="1"/>
<ellipse cx="865.9" cy="109.4" rx="2" ry="1.15" fill="none" stroke="#111" stroke-width="1.1" transform="rotate(0 865.9 109.4)"/>
<ellipse cx="865.9" cy="111.75" rx="2" ry="1.15" fill="none" stroke="#111" stroke-width="1.1" transform="rotate(0 865.9 111.75)"/>
<ellipse cx="865.9" cy="114.1" rx="2" ry="1.15" fill="none" stroke="#111" stroke-width="1.1" transform="rotate(0 865.9 114.1)"/>
<line x1="863.9" y1="116.2" x2="867.9" y2="116.2" stroke="#3c3c3c" stroke-width="1"/>
<ellipse cx="909.3" cy="109.4" rx="2" ry="1.15" fill="none" stroke="#111" stroke-width="1.1" transform="rotate(0 909.3 109.4)"/>
<ellipse cx="909.3" cy="111.75" rx="2" ry="1.15" fill="none" stroke="#111" stroke-width="1.1" transform="rotate(0 909.3 111.75)"/>
<ellipse cx="909.3" cy="114.1" rx="2" ry="1.15" fill="none" stroke="#111" stroke-width="1.1" transform="rotate(0 909.3 114.1)"/>
<line x1="907.3" y1="116.2" x2="911.3" y2="116.2" stroke="#3c3c3c" stroke-width="1"/>
<ellipse cx="855.9" cy="109.85" rx="2" ry="1.15" fill="none" stroke="#111" stroke-width="1.1" transform="rotate(23.77 855.9 109.85)"/>
<ellipse cx="856.8" cy="112.2" rx="2" ry="1.15" fill="none" stroke="#111" stroke-width="1.1" transform="rotate(23.77 856.8 112.2)"/>
<ellipse cx="857.7" cy="114.55" rx="2" ry="1.15" fill="none" stroke="#111" stroke-width="1.1" transform="rotate(23.77 857.7 114.55)"/>
<ellipse cx="919.3" cy="109.85" rx="2" ry="1.15" fill="none" stroke="#111" stroke-width="1.1" transform="rotate(-23.77 919.3 109.85)"/>
<ellipse cx="918.4" cy="112.2" rx="2" ry="1.15" fill="none" stroke="#111" stroke-width="1.1" transform="rotate(-23.77 918.4 112.2)"/>
<ellipse cx="917.5" cy="114.55" rx="2" ry="1.15" fill="none" stroke="#111" stroke-width="1.1" transform="rotate(-23.77 917.5 114.55)"/>
<ellipse cx="849" cy="110.3" rx="1.7" ry="0.98" fill="none" stroke="#111" stroke-width="1.1" transform="rotate(28.95 849 110.3)"/>
<ellipse cx="849.9" cy="112.65" rx="1.7" ry="0.98" fill="none" stroke="#111" stroke-width="1.1" transform="rotate(28.95 849.9 112.65)"/>
<ellipse cx="850.8" cy="115" rx="1.7" ry="0.98" fill="none" stroke="#111" stroke-width="1.1" transform="rotate(28.95 850.8 115)"/>
<ellipse cx="926.2" cy="110.3" rx="1.7" ry="0.98" fill="none" stroke="#111" stroke-width="1.1" transform="rotate(-28.95 926.2 110.3)"/>
<ellipse cx="925.3" cy="112.65" rx="1.7" ry="0.98" fill="none" stroke="#111" stroke-width="1.1" transform="rotate(-28.95 925.3 112.65)"/>
<ellipse cx="924.4" cy="115" rx="1.7" ry="0.98" fill="none" stroke="#111" stroke-width="1.1" transform="rotate(-28.95 924.4 115)"/>
<ellipse cx="843.2" cy="110.75" rx="1.7" ry="0.98" fill="none" stroke="#111" stroke-width="1.1" transform="rotate(30 843.2 110.75)"/>
<ellipse cx="844.1" cy="113.1" rx="1.7" ry="0.98" fill="none" stroke="#111" stroke-width="1.1" transform="rotate(30 844.1 113.1)"/>
<ellipse cx="932" cy="110.75" rx="1.7" ry="0.98" fill="none" stroke="#111" stroke-width="1.1" transform="rotate(-30 932 110.75)"/>
<ellipse cx="931.1" cy="113.1" rx="1.7" ry="0.98" fill="none" stroke="#111" stroke-width="1.1" transform="rotate(-30 931.1 113.1)"/>
<ellipse cx="839.2" cy="111.2" rx="1.7" ry="0.98" fill="none" stroke="#111" stroke-width="1.1" transform="rotate(30 839.2 111.2)"/>
<ellipse cx="840.1" cy="113.55" rx="1.7" ry="0.98" fill="none" stroke="#111" stroke-width="1.1" transform="rotate(30 840.1 113.55)"/>
<ellipse cx="936" cy="111.2" rx="1.7" ry="0.98" fill="none" stroke="#111" stroke-width="1.1" transform="rotate(-30 936 111.2)"/>
<ellipse cx="935.1" cy="113.55" rx="1.7" ry="0.98" fill="none" stroke="#111" stroke-width="1.1" transform="rotate(-30 935.1 113.55)"/>
</g>
<line x1="887.6" y1="117" x2="887.6" y2="898.5" stroke="#3c3c3c" stroke-width="1"/>
<rect x="569.6" y="461.3" width="7.1" height="39.4" fill="#fff" stroke="#3c3c3c" stroke-width="1"/>
<line x1="575.6" y1="461.3" x2="575.6" y2="500.7" stroke="#555" stroke-width="2.2"/>
<path d="M553.8,470.6 L556.3,469 H569.6 V472.2 H556.3 Z" fill="#111" stroke="#3c3c3c" stroke-width="0.3"/>
<path d="M553.8,486.3 L556.3,484.7 H569.6 V487.9 H556.3 Z" fill="#111" stroke="#3c3c3c" stroke-width="0.3"/>
<rect x="577.7" y="474.6" width="14.4" height="12.7" fill="#fff" stroke="#3c3c3c" stroke-width="1.2"/>
<line x1="583.3" y1="474.6" x2="583.3" y2="487.3" stroke="#3c3c3c" stroke-width="1"/>
<line x1="584.8" y1="474.6" x2="584.8" y2="487.3" stroke="#3c3c3c" stroke-width="1"/>
<line x1="591" y1="474.6" x2="591" y2="487.3" stroke="#3c3c3c" stroke-width="1"/>
<rect x="602.3" y="457.3" width="20.2" height="39.2" fill="#fff" stroke="#3c3c3c" stroke-width="1.1"/>
<path d="M592.1,472.1 H601.7 L607.2,478.5 V484 L601.7,490.4 H592.1 Z" fill="#fff" stroke="#1e1e1e" stroke-width="1.3"/>
<path d="M601.7,473.4 L606,478.6 M601.7,489.2 L606,484" fill="none" stroke="#3c3c3c" stroke-width="1"/>
<circle cx="595.8" cy="481.2" r="1.1" fill="none" stroke="#222" stroke-width="1.1"/>
<rect x="609.6" y="481.3" width="5" height="12" fill="#fff" stroke="#3c3c3c" stroke-width="1.1"/>
<circle cx="612.3" cy="473.8" r="6.1" fill="#fff" stroke="#1e1e1e" stroke-width="1.8"/>
<path d="M622.5,499.6 C623.5,497 625.5,495.9 627.2,495.9 C629,495.9 630.2,497.5 630.4,501 C633,507 633.5,515 632.3,525 C631,538 628,552 623.3,563.3 L619.2,571.7" fill="none" stroke="#3c3c3c" stroke-width="1"/>
<path d="M630.4,501 C629,512 627.5,522 625.5,535 C624,546 622.5,556 620.5,566" fill="none" stroke="#3c3c3c" stroke-width="1"/>
<ellipse cx="631.1" cy="504.5" rx="1.5" ry="1.9" fill="none" stroke="#111" stroke-width="1.2" transform="rotate(10 631.1 504.5)"/>
<ellipse cx="630.68" cy="509.42" rx="1.5" ry="1.9" fill="none" stroke="#111" stroke-width="1.2" transform="rotate(11 630.68 509.42)"/>
<ellipse cx="630.18" cy="514.33" rx="1.5" ry="1.9" fill="none" stroke="#111" stroke-width="1.2" transform="rotate(12 630.18 514.33)"/>
<ellipse cx="629.63" cy="519.25" rx="1.5" ry="1.9" fill="none" stroke="#111" stroke-width="1.2" transform="rotate(13 629.63 519.25)"/>
<ellipse cx="629.01" cy="524.17" rx="1.5" ry="1.9" fill="none" stroke="#111" stroke-width="1.2" transform="rotate(14 629.01 524.17)"/>
<ellipse cx="628.32" cy="529.08" rx="1.5" ry="1.9" fill="none" stroke="#111" stroke-width="1.2" transform="rotate(15 628.32 529.08)"/>
<ellipse cx="627.56" cy="534" rx="1.5" ry="1.9" fill="none" stroke="#111" stroke-width="1.2" transform="rotate(16 627.56 534)"/>
<ellipse cx="626.74" cy="538.92" rx="1.5" ry="1.9" fill="none" stroke="#111" stroke-width="1.2" transform="rotate(17 626.74 538.92)"/>
<ellipse cx="625.86" cy="543.83" rx="1.5" ry="1.9" fill="none" stroke="#111" stroke-width="1.2" transform="rotate(18 625.86 543.83)"/>
<ellipse cx="624.9" cy="548.75" rx="1.5" ry="1.9" fill="none" stroke="#111" stroke-width="1.2" transform="rotate(19 624.9 548.75)"/>
<ellipse cx="623.88" cy="553.67" rx="1.5" ry="1.9" fill="none" stroke="#111" stroke-width="1.2" transform="rotate(20 623.88 553.67)"/>
<ellipse cx="622.8" cy="558.58" rx="1.5" ry="1.9" fill="none" stroke="#111" stroke-width="1.2" transform="rotate(21 622.8 558.58)"/>
<ellipse cx="621.65" cy="563.5" rx="1.5" ry="1.9" fill="none" stroke="#111" stroke-width="1.2" transform="rotate(22 621.65 563.5)"/>
<path d="M603.9,622 L603.6,654.5" fill="none" stroke="#1e1e1e" stroke-width="1.4"/>
<circle cx="612.3" cy="672.4" r="14.2" fill="#fff" stroke="#1e1e1e" stroke-width="1.3"/>
</g>
<g id="mixer-side">
<clipPath id="hc"><rect x="559.3" y="979.3" width="14.3" height="122.7"/></clipPath>
<g clip-path="url(#hc)" stroke="#1c1c1c" stroke-width="1.12">
<line x1="559" y1="983.2" x2="574" y2="975"/>
<line x1="559" y1="986.76" x2="574" y2="978.56"/>
<line x1="559" y1="990.32" x2="574" y2="982.12"/>
<line x1="559" y1="993.88" x2="574" y2="985.68"/>
<line x1="559" y1="997.44" x2="574" y2="989.24"/>
<line x1="559" y1="1001" x2="574" y2="992.8"/>
<line x1="559" y1="1004.56" x2="574" y2="996.36"/>
<line x1="559" y1="1008.12" x2="574" y2="999.92"/>
<line x1="559" y1="1011.68" x2="574" y2="1003.48"/>
<line x1="559" y1="1015.24" x2="574" y2="1007.04"/>
<line x1="559" y1="1018.8" x2="574" y2="1010.6"/>
<line x1="559" y1="1022.36" x2="574" y2="1014.16"/>
<line x1="559" y1="1025.92" x2="574" y2="1017.72"/>
<line x1="559" y1="1029.48" x2="574" y2="1021.28"/>
<line x1="559" y1="1033.04" x2="574" y2="1024.84"/>
<line x1="559" y1="1036.6" x2="574" y2="1028.4"/>
<line x1="559" y1="1040.16" x2="574" y2="1031.96"/>
<line x1="559" y1="1043.72" x2="574" y2="1035.52"/>
<line x1="559" y1="1047.28" x2="574" y2="1039.08"/>
<line x1="559" y1="1050.84" x2="574" y2="1042.64"/>
<line x1="559" y1="1054.4" x2="574" y2="1046.2"/>
<line x1="559" y1="1057.96" x2="574" y2="1049.76"/>
<line x1="559" y1="1061.52" x2="574" y2="1053.32"/>
<line x1="559" y1="1065.08" x2="574" y2="1056.88"/>
<line x1="559" y1="1068.64" x2="574" y2="1060.44"/>
<line x1="559" y1="1072.2" x2="574" y2="1064"/>
<line x1="559" y1="1075.76" x2="574" y2="1067.56"/>
<line x1="559" y1="1079.32" x2="574" y2="1071.12"/>
<line x1="559" y1="1082.88" x2="574" y2="1074.68"/>
<line x1="559" y1="1086.44" x2="574" y2="1078.24"/>
<line x1="559" y1="1090" x2="574" y2="1081.8"/>
<line x1="559" y1="1093.56" x2="574" y2="1085.36"/>
<line x1="559" y1="1097.12" x2="574" y2="1088.92"/>
<line x1="559" y1="1100.68" x2="574" y2="1092.48"/>
<line x1="559" y1="1104.24" x2="574" y2="1096.04"/>
<line x1="559" y1="1107.8" x2="574" y2="1099.6"/>
<line x1="559" y1="1111.36" x2="574" y2="1103.16"/>
<line x1="559" y1="1114.92" x2="574" y2="1106.72"/>
<line x1="559" y1="1118.48" x2="574" y2="1110.28"/>
<line x1="559" y1="1122.04" x2="574" y2="1113.84"/>
</g>
<line x1="573.7" y1="979.3" x2="573.7" y2="1173.5" stroke="#3c3c3c" stroke-width="1"/>
<rect x="559.6" y="1034" width="14.1" height="15.3" fill="#000" stroke="#3c3c3c" stroke-width="0"/>
<path d="M592,977 C583,977 576.3,984 576.3,993.3 V1000.6 M592,985.4 C587,985.4 583.3,989 583.3,993.3 V1000 M591.7,993.3 V1000.6" fill="none" stroke="#3c3c3c" stroke-width="1.1"/>
<path d="M580.8,982.5 L591.7,993.3 M587.5,987.5 L592,985.4" fill="none" stroke="#3c3c3c" stroke-width="1"/>
<rect x="576.3" y="1001" width="15.4" height="6.5" fill="#000" stroke="#3c3c3c" stroke-width="0"/>
<line x1="576.3" y1="1000" x2="591.7" y2="1000" stroke="#3c3c3c" stroke-width="1"/>
<rect x="601.3" y="958.7" width="22" height="13.8" fill="#fff" stroke="#3c3c3c" stroke-width="1.1"/>
<line x1="602.5" y1="958.6" x2="622" y2="958.6" stroke="#1e1e1e" stroke-width="1.6"/>
<rect x="608.3" y="959.2" width="7.5" height="3.8" fill="none" stroke="#3c3c3c" stroke-width="0.9"/>
<rect x="592" y="975.4" width="6.8" height="20" fill="none" stroke="#3c3c3c" stroke-width="1.1"/>
<rect x="626.7" y="975.4" width="27.9" height="20" fill="none" stroke="#3c3c3c" stroke-width="1.1"/>
<line x1="633.8" y1="975.4" x2="633.8" y2="995.4" stroke="#3c3c3c" stroke-width="1"/>
<rect x="645.4" y="961.3" width="7.1" height="13.9" fill="none" stroke="#3c3c3c" stroke-width="1.1"/>
<path d="M601.3,972.5 C612,978 612,993 601.7,998.3 M623.3,972.5 C612.5,978 612.5,993 622.9,998.3" fill="none" stroke="#3c3c3c" stroke-width="1.1"/>
<path d="M598.8,975.4 L601.3,972.5 M598.8,995.4 L601.7,998.3 M626.7,975.4 L623.3,972.5 M626.7,995.4 L622.9,998.3" fill="none" stroke="#3c3c3c" stroke-width="1"/>
<path d="M599.6,976.7 L606.7,985 L599.6,993.3 M625.8,976.7 L618.3,985 L625.8,993.3" fill="none" stroke="#3c3c3c" stroke-width="1.1"/>
<path d="M601.7,998.3 V1011 M622.9,998.3 V1011" fill="none" stroke="#3c3c3c" stroke-width="1.1"/>
<line x1="601.7" y1="1006.7" x2="622.9" y2="1006.7" stroke="#3c3c3c" stroke-width="1"/>
<path d="M601.7,1011 V1012.5 C601.5,1014.5 600,1016 598.3,1016.8 M622.9,1011 L623.7,1012.5 C624,1014.5 625.5,1016.3 627.5,1017" fill="none" stroke="#3c3c3c" stroke-width="1.2"/>
<path d="M601.7,1012.8 Q612.7,1017.4 623.7,1012.8" fill="none" stroke="#3c3c3c" stroke-width="1"/>
<path d="M598.8,1017.4 Q612.7,1021.4 627,1017.4" fill="none" stroke="#3c3c3c" stroke-width="1"/>
<line x1="602.6" y1="1013.4" x2="600.6" y2="1017.6" stroke="#3c3c3c" stroke-width="1"/>
<line x1="605" y1="1014.3" x2="603.6" y2="1018.4" stroke="#3c3c3c" stroke-width="1"/>
<line x1="615.6" y1="1015.3" x2="616.6" y2="1019.3" stroke="#3c3c3c" stroke-width="1"/>
<line x1="618.6" y1="1014.8" x2="620" y2="1018.8" stroke="#3c3c3c" stroke-width="1"/>
<line x1="621.4" y1="1014" x2="623.4" y2="1018" stroke="#3c3c3c" stroke-width="1"/>
<path d="M573.7,1010 H577 C583,1011.5 587.5,1016.5 588.7,1022 V1045 C587.5,1050 583,1055 577,1056.4 H573.7" fill="none" stroke="#3c3c3c" stroke-width="1.1"/>
<line x1="578.8" y1="1010.3" x2="578.8" y2="1056.2" stroke="#1e1e1e" stroke-width="1.5"/>
<rect x="588.8" y="1021.3" width="8.8" height="23.7" fill="none" stroke="#3c3c3c" stroke-width="1.1"/>
<line x1="588.8" y1="1027" x2="597.6" y2="1027" stroke="#3c3c3c" stroke-width="1"/>
<line x1="588.8" y1="1040" x2="597.6" y2="1040" stroke="#3c3c3c" stroke-width="1"/>
<path d="M598.3,1016.8 H647.7 V1049.2 H598.3 Z" fill="none" stroke="#3c3c3c" stroke-width="1.1"/>
<line x1="599.3" y1="1017" x2="599.3" y2="1049" stroke="#3c3c3c" stroke-width="1"/>
<line x1="630.8" y1="1016.8" x2="630.8" y2="1049.2" stroke="#3c3c3c" stroke-width="1"/>
<line x1="599" y1="1033.2" x2="630.8" y2="1033.2" stroke="#3c3c3c" stroke-width="1"/>
<path d="M599,1019.3 C612,1019.5 621,1025 621,1033.8 C621,1040 614,1045.5 599,1046.3" fill="none" stroke="#3c3c3c" stroke-width="1.1"/>
<path d="M599,1023.3 C609,1023.5 616,1027 616,1033.5 C616,1039 609,1042 599,1042.6" fill="none" stroke="#3c3c3c" stroke-width="1"/>
<path d="M599,1033.6 H606 C609,1033.6 610.4,1035 610.4,1037 C610.4,1039.5 606,1041 599,1041.3" fill="none" stroke="#3c3c3c" stroke-width="1"/>
<path d="M599,1018 C606,1018.6 613,1019.6 617,1021" fill="none" stroke="#3c3c3c" stroke-width="1"/>
<path d="M598.3,1049.2 C600.5,1050 602.8,1052 603.3,1054.5 M627.5,1048.8 C624.5,1049.8 622.2,1052 621.7,1054.5" fill="none" stroke="#3c3c3c" stroke-width="1.2"/>
<path d="M599,1048.6 Q612.7,1044.6 627,1048.6" fill="none" stroke="#3c3c3c" stroke-width="1"/>
<path d="M603.3,1053.8 Q612.5,1050.4 621.7,1053.8" fill="none" stroke="#3c3c3c" stroke-width="1"/>
<line x1="601.5" y1="1048" x2="603.6" y2="1052" stroke="#3c3c3c" stroke-width="1"/>
<line x1="604.5" y1="1047.2" x2="606" y2="1051" stroke="#3c3c3c" stroke-width="1"/>
<line x1="616.5" y1="1046.6" x2="617.4" y2="1050.6" stroke="#3c3c3c" stroke-width="1"/>
<line x1="619.8" y1="1047.2" x2="621" y2="1051.2" stroke="#3c3c3c" stroke-width="1"/>
<line x1="603.3" y1="1054.3" x2="621.7" y2="1054.3" stroke="#3c3c3c" stroke-width="1"/>
<path d="M603.3,1054.3 V1106.7 C603.3,1116 612,1127 628,1130.5 C634,1131.3 640,1131.3 646,1131.3 H687.6" fill="none" stroke="#3c3c3c" stroke-width="1.1"/>
<path d="M621.3,1054.3 V1106.5 C621.5,1111 625,1115.5 636,1116 H704.6" fill="none" stroke="#3c3c3c" stroke-width="1.1"/>
<path d="M612.3,1106.5 C613,1112 618,1117 628,1118.3 C633,1118.8 637,1118.8 639.5,1118.8" fill="none" stroke="#1e1e1e" stroke-width="1.3"/>
<path d="M639.5,1118.7 C660,1119.8 680,1120.4 690,1120.2 C697,1120 702,1119.2 704.6,1116.8" fill="none" stroke="#1e1e1e" stroke-width="1.8"/>
<path d="M639.5,1118.8 C641.5,1122 642.6,1126 642.8,1131.3" fill="none" stroke="#3c3c3c" stroke-width="1"/>
<path d="M689.7,1120.7 C689.5,1123 687,1125 684.7,1126.5 L685.7,1130.3 M704.7,1117.3 C704,1121 703,1123.5 701.3,1125.4" fill="none" stroke="#3c3c3c" stroke-width="1.2"/>
<path d="M685.7,1130.3 L701.3,1125.4 L702,1130.1 L686.7,1134.5 Z" fill="#fff" stroke="#1e1e1e" stroke-width="1.4"/>
<line x1="705.2" y1="1105" x2="705.2" y2="1117.3" stroke="#3c3c3c" stroke-width="1"/>
<path d="M654.2,1016.8 H665 C667.5,1016.8 668.6,1018 669,1020 L670.6,1034 L674.3,1091.5 L672.5,1093.4 L671.6,1092.5 L665.3,1050.5 L663.2,1043.5 C661.5,1040 659.5,1037 656.6,1034.2 L670.3,1034.4" fill="none" stroke="#1e1e1e" stroke-width="1.3"/>
<path d="M654.2,1016.8 L649.3,1033.3 V1049.2 H663.8" fill="none" stroke="#3c3c3c" stroke-width="1.1"/>
<path d="M647.7,1019 L652.3,1019.8" fill="none" stroke="#3c3c3c" stroke-width="1"/>
<path d="M664.8,1017.5 L668.3,1033.8 M658,1035.6 C661,1039 663,1043 664.5,1048.6" fill="none" stroke="#3c3c3c" stroke-width="1"/>
<path d="M669.6,1035 L672.8,1091" fill="none" stroke="#3c3c3c" stroke-width="1"/>
</g>
<g id="side-dims">
<line x1="863" y1="26.2" x2="1052.7" y2="26.2" stroke="#4a4a4a" stroke-width="1"/>
<line x1="973.6" y1="26.2" x2="973.6" y2="512.8" stroke="#4a4a4a" stroke-width="1"/>
<polygon points="973.6,26.2 974.6,30.7 972.6,30.7" fill="#111" stroke="#111" stroke-width="0.3"/>
<polygon points="973.6,116.4 972.6,111.9 974.6,111.9" fill="#111" stroke="#111" stroke-width="0.3"/>
<polygon points="973.6,116.4 974.6,120.9 972.6,120.9" fill="#111" stroke="#111" stroke-width="0.3"/>
<polygon points="973.6,512.8 972.6,508.3 974.6,508.3" fill="#111" stroke="#111" stroke-width="0.3"/>
<line x1="952" y1="116.4" x2="976.8" y2="116.4" stroke="#4a4a4a" stroke-width="1"/>
<line x1="952" y1="512.9" x2="976.8" y2="512.9" stroke="#4a4a4a" stroke-width="1"/>
<text transform="translate(973 79.6) rotate(-90) scale(0.6980 1)" x="-1.17" y="0" font-size="15.33" fill="#111" stroke="#111" stroke-width="0.5" vector-effect="non-scaling-stroke">127</text>
<text transform="translate(973 322.6) rotate(-90) scale(0.6935 1)" x="-0.61" y="-0.15" font-size="15.33" fill="#111" stroke="#111" stroke-width="0.5" vector-effect="non-scaling-stroke">554</text>
<line x1="822.5" y1="115.3" x2="822.5" y2="146.2" stroke="#3c3c3c" stroke-width="1"/>
<line x1="951.8" y1="115.3" x2="951.8" y2="146.2" stroke="#3c3c3c" stroke-width="1"/>
<line x1="822.5" y1="144.9" x2="951.8" y2="144.9" stroke="#3c3c3c" stroke-width="1"/>
<polygon points="822.5,144.9 833.5,143 833.5,146.8" fill="#111" stroke="#111" stroke-width="0.3"/>
<polygon points="951.8,144.9 940.8,146.8 940.8,143" fill="#111" stroke="#111" stroke-width="0.3"/>
<text transform="translate(901.1 144.3) scale(0.6174 1)" x="-1.15" y="-0.15" font-size="15.11" fill="#111" stroke="#111" stroke-width="0.5" vector-effect="non-scaling-stroke">180</text>
<line x1="1050.3" y1="26.2" x2="1050.3" y2="1033.3" stroke="#666" stroke-width="1.2"/>
<path d="M1050.3,26.2 L1053.3,33 L1050.3,31.6 L1047.3,33 Z" fill="#222" stroke="#3c3c3c" stroke-width="0"/>
<path d="M1050.3,1033.3 L1053.3,1026.5 L1050.3,1027.9 L1047.3,1026.5 Z" fill="#222" stroke="#3c3c3c" stroke-width="0"/>
<line x1="684.5" y1="1033.3" x2="1052.5" y2="1033.3" stroke="#4a4a4a" stroke-width="1"/>
<text transform="translate(1049.6 616) rotate(-90) scale(0.6019 1)" x="-2.65" y="-0.35" font-size="34.89" fill="#111" stroke="#111" stroke-width="0.5" vector-effect="non-scaling-stroke">1333</text>
<text transform="translate(1049.6 542.3) rotate(-90) scale(0.5776 1)" x="-2.65" y="-0.35" font-size="34.89" fill="#111" stroke="#111" stroke-width="0.5" vector-effect="non-scaling-stroke">1844</text>
<text transform="translate(1044 566.4) rotate(-90) scale(0.4310 1)" x="-3.46" y="22.33" font-size="88.61" fill="#111" font-weight="bold">~</text>
<line x1="569.6" y1="435" x2="569.6" y2="461.3" stroke="#3c3c3c" stroke-width="1"/>
<line x1="612.5" y1="437" x2="612.5" y2="457.3" stroke="#3c3c3c" stroke-width="1"/>
<line x1="569.6" y1="437.5" x2="612.5" y2="437.5" stroke="#3c3c3c" stroke-width="1"/>
<polygon points="569.6,437.5 574.6,436.4 574.6,438.6" fill="#111" stroke="#111" stroke-width="0.3"/>
<polygon points="612.5,437.5 607.5,438.6 607.5,436.4" fill="#111" stroke="#111" stroke-width="0.3"/>
<text transform="translate(586.1 436.8) scale(0.6656 1)" x="-0.76" y="-0.15" font-size="15.11" fill="#111" stroke="#111" stroke-width="0.5" vector-effect="non-scaling-stroke">60</text>
<line x1="535.4" y1="461.3" x2="569.6" y2="461.3" stroke="#3c3c3c" stroke-width="1"/>
<line x1="535.4" y1="500.7" x2="569.6" y2="500.7" stroke="#3c3c3c" stroke-width="1"/>
<line x1="538.2" y1="442" x2="538.2" y2="500.7" stroke="#3c3c3c" stroke-width="1"/>
<polygon points="538.2,461.3 539.3,466.8 537.1,466.8" fill="#111" stroke="#111" stroke-width="0.3"/>
<polygon points="538.2,500.7 537.1,495.2 539.3,495.2" fill="#111" stroke="#111" stroke-width="0.3"/>
<text transform="translate(537.3 454.3) rotate(-90) scale(0.6830 1)" x="-0.65" y="-0.16" font-size="16.19" fill="#111" stroke="#111" stroke-width="0.5" vector-effect="non-scaling-stroke">55</text>
<text transform="translate(537.6 460.2) rotate(-90) scale(0.5769 1)" x="-0.44" y="-0.35" font-size="12.92" fill="#111" stroke="#111" stroke-width="0.3" vector-effect="non-scaling-stroke">&#216;</text>
<line x1="497.5" y1="481.3" x2="569.6" y2="481.3" stroke="#3c3c3c" stroke-width="1"/>
<line x1="501.5" y1="481.3" x2="501.5" y2="1032.8" stroke="#444" stroke-width="1"/>
<polygon points="501.5,481.3 503.4,492.3 499.6,492.3" fill="#111" stroke="#111" stroke-width="0.3"/>
<polygon points="501.5,1032.8 499.6,1021.8 503.4,1021.8" fill="#111" stroke="#111" stroke-width="0.3"/>
<line x1="499.5" y1="1033" x2="560" y2="1033" stroke="#3c3c3c" stroke-width="1"/>
<text transform="translate(500.9 770.2) rotate(-90) scale(0.7224 1)" x="-0.65" y="-0.15" font-size="15.11" fill="#111" stroke="#111" stroke-width="0.5" vector-effect="non-scaling-stroke">816.5</text>
<line x1="622.5" y1="496.6" x2="704.7" y2="496.6" stroke="#3c3c3c" stroke-width="1"/>
<line x1="603.3" y1="654.7" x2="704.7" y2="654.7" stroke="#3c3c3c" stroke-width="1"/>
<line x1="701.6" y1="496.6" x2="701.6" y2="654.7" stroke="#4a4a4a" stroke-width="1"/>
<polygon points="701.6,496.6 702.6,501.1 700.6,501.1" fill="#111" stroke="#111" stroke-width="0.3"/>
<polygon points="701.6,654.7 700.6,650.2 702.6,650.2" fill="#111" stroke="#111" stroke-width="0.3"/>
<text transform="translate(700.8 583.6) rotate(-90) scale(0.6865 1)" x="-0.77" y="0" font-size="15.33" fill="#111" stroke="#111" stroke-width="0.5" vector-effect="non-scaling-stroke">222</text>
<line x1="604.3" y1="839.3" x2="656.8" y2="839.3" stroke="#3c3c3c" stroke-width="1"/>
<polygon points="604.3,839.3 608.8,838.3 608.8,840.3" fill="#111" stroke="#111" stroke-width="0.3"/>
<polygon points="620.5,839.3 616,840.3 616,838.3" fill="#111" stroke="#111" stroke-width="0.3"/>
<text transform="translate(637 837.4) scale(0.7687 1)" x="-0.4" y="-0.32" font-size="11.71" fill="#111" stroke="#111" stroke-width="0.3" vector-effect="non-scaling-stroke">&#216;</text>
<text transform="translate(645.9 838.6) scale(0.6818 1)" x="-0.76" y="-0.15" font-size="15.11" fill="#111" stroke="#111" stroke-width="0.5" vector-effect="non-scaling-stroke">23</text>
<line x1="612.5" y1="896.7" x2="612.5" y2="911.5" stroke="#3c3c3c" stroke-width="1"/>
<line x1="612.5" y1="897.5" x2="887.6" y2="897.5" stroke="#3c3c3c" stroke-width="1"/>
<polygon points="612.7,897.5 623.7,895.6 623.7,899.4" fill="#111" stroke="#111" stroke-width="0.3"/>
<polygon points="887.4,897.5 876.4,899.4 876.4,895.6" fill="#111" stroke="#111" stroke-width="0.3"/>
<text transform="translate(730.5 896.9) scale(0.6288 1)" x="-0.57" y="-0.15" font-size="15.11" fill="#111" stroke="#111" stroke-width="0.5" vector-effect="non-scaling-stroke">385</text>
<line x1="522" y1="1010" x2="574" y2="1010" stroke="#3c3c3c" stroke-width="1"/>
<line x1="522" y1="1056.4" x2="574" y2="1056.4" stroke="#3c3c3c" stroke-width="1"/>
<line x1="523.3" y1="980" x2="523.3" y2="1056.4" stroke="#3c3c3c" stroke-width="1"/>
<polygon points="523.3,1010 525.2,1021 521.4,1021" fill="#111" stroke="#111" stroke-width="0.3"/>
<polygon points="523.3,1056.4 521.4,1045.4 525.2,1045.4" fill="#111" stroke="#111" stroke-width="0.3"/>
<text transform="translate(522 992) rotate(-90) scale(0.7601 1)" x="-0.73" y="-0.15" font-size="14.69" fill="#111" stroke="#111" stroke-width="0.5" vector-effect="non-scaling-stroke">65</text>
<text transform="translate(522.4 999.4) rotate(-90) scale(0.5581 1)" x="0.4" y="-0.39" font-size="14.27" fill="#111" font-style="italic" stroke="#111" stroke-width="0.3" vector-effect="non-scaling-stroke">&#216;</text>
<line x1="544" y1="1034.3" x2="560" y2="1034.3" stroke="#3c3c3c" stroke-width="1"/>
<line x1="544" y1="1049.6" x2="560" y2="1049.6" stroke="#3c3c3c" stroke-width="1"/>
<line x1="545" y1="976" x2="545" y2="1070.7" stroke="#3c3c3c" stroke-width="1"/>
<polygon points="545,1034.3 543.1,1023.3 546.9,1023.3" fill="#111" stroke="#111" stroke-width="0.3"/>
<polygon points="545,1049.6 546.9,1060.6 543.1,1060.6" fill="#111" stroke="#111" stroke-width="0.3"/>
<text transform="translate(544 1001.8) rotate(-90) scale(0.6909 1)" x="-0.73" y="-0.15" font-size="14.56" fill="#111" stroke="#111" stroke-width="0.5" vector-effect="non-scaling-stroke">G1/2</text>
<text transform="translate(535.3 980.4) rotate(-90) scale(0.5931 1)" x="-1.73" y="8.96" font-size="18.98" fill="#111" font-style="italic" stroke="#111" stroke-width="0.2" vector-effect="non-scaling-stroke">&quot;</text>
<line x1="573.7" y1="1041.4" x2="739.5" y2="1041.4" stroke="#3c3c3c" stroke-width="1"/>
<line x1="693" y1="1134.4" x2="739.5" y2="1134.4" stroke="#3c3c3c" stroke-width="1"/>
<line x1="738" y1="1041.4" x2="738" y2="1134.4" stroke="#3c3c3c" stroke-width="1"/>
<polygon points="738,1041.4 739.9,1052.4 736.1,1052.4" fill="#111" stroke="#111" stroke-width="0.3"/>
<polygon points="738,1134.4 736.1,1123.4 739.9,1123.4" fill="#111" stroke="#111" stroke-width="0.3"/>
<text transform="translate(737.3 1095.5) rotate(-90) scale(0.6387 1)" x="-1.15" y="-0.15" font-size="15.11" fill="#111" stroke="#111" stroke-width="0.5" vector-effect="non-scaling-stroke">130</text>
<line x1="612.5" y1="1006.7" x2="612.5" y2="1140.5" stroke="#3c3c3c" stroke-width="1"/>
<line x1="604" y1="1106.3" x2="705" y2="1106.3" stroke="#3c3c3c" stroke-width="1"/>
<polygon points="604,1106.3 615,1104.4 615,1108.2" fill="#111" stroke="#111" stroke-width="0.3"/>
<polygon points="705,1106.3 694,1108.2 694,1104.4" fill="#111" stroke="#111" stroke-width="0.3"/>
<text transform="translate(647.1 1105.7) scale(0.6151 1)" x="-1.15" y="-0.15" font-size="15.11" fill="#111" stroke="#111" stroke-width="0.5" vector-effect="non-scaling-stroke">143</text>
<line x1="573.7" y1="1139" x2="612.5" y2="1139" stroke="#3c3c3c" stroke-width="1"/>
<polygon points="573.7,1139 584.7,1137.1 584.7,1140.9" fill="#111" stroke="#111" stroke-width="0.3"/>
<polygon points="612.5,1139 601.5,1140.9 601.5,1137.1" fill="#111" stroke="#111" stroke-width="0.3"/>
<text transform="translate(592.6 1138.3) scale(0.6192 1)" x="-0.61" y="-0.15" font-size="15.33" fill="#111" stroke="#111" stroke-width="0.5" vector-effect="non-scaling-stroke">54</text>
<line x1="674" y1="1092" x2="674" y2="1155.5" stroke="#3c3c3c" stroke-width="1"/>
<line x1="573.7" y1="1154.3" x2="674" y2="1154.3" stroke="#3c3c3c" stroke-width="1"/>
<polygon points="573.7,1154.3 584.7,1152.4 584.7,1156.2" fill="#111" stroke="#111" stroke-width="0.3"/>
<polygon points="674,1154.3 663,1156.2 663,1152.4" fill="#111" stroke="#111" stroke-width="0.3"/>
<text transform="translate(616.5 1153.6) scale(0.6387 1)" x="-1.15" y="-0.15" font-size="15.11" fill="#111" stroke="#111" stroke-width="0.5" vector-effect="non-scaling-stroke">140</text>
<line x1="694.4" y1="1134.4" x2="694.4" y2="1174" stroke="#3c3c3c" stroke-width="1"/>
<line x1="573.7" y1="1173" x2="694.4" y2="1173" stroke="#3c3c3c" stroke-width="1"/>
<polygon points="573.7,1173 584.7,1171.1 584.7,1174.9" fill="#111" stroke="#111" stroke-width="0.3"/>
<polygon points="694.4,1173 683.4,1174.9 683.4,1171.1" fill="#111" stroke="#111" stroke-width="0.3"/>
<text transform="translate(627.9 1172.4) scale(0.6424 1)" x="-1.15" y="-0.15" font-size="15.11" fill="#111" stroke="#111" stroke-width="0.5" vector-effect="non-scaling-stroke">169</text>
<line x1="694.3" y1="1134.4" x2="703" y2="1158.4" stroke="#3c3c3c" stroke-width="1"/>
<path d="M675,1151.7 A25.8,25.8 0 0 0 719,1144" fill="none" stroke="#3c3c3c" stroke-width="1"/>
<polygon points="694.5,1159.4 683.83,1159.08 684.62,1155.36" fill="#111" stroke="#111" stroke-width="0.3"/>
<polygon points="703,1158.3 711.02,1151.26 712.98,1154.52" fill="#111" stroke="#111" stroke-width="0.3"/>
<text transform="translate(674.6 1152.6) rotate(14) skewX(-20) scale(0.58 1)" x="0" y="0" font-size="15" fill="#111" stroke="#111" stroke-width="0.4" vector-effect="non-scaling-stroke">18&#176;</text>
</g>
</svg>
</body>
</html>
